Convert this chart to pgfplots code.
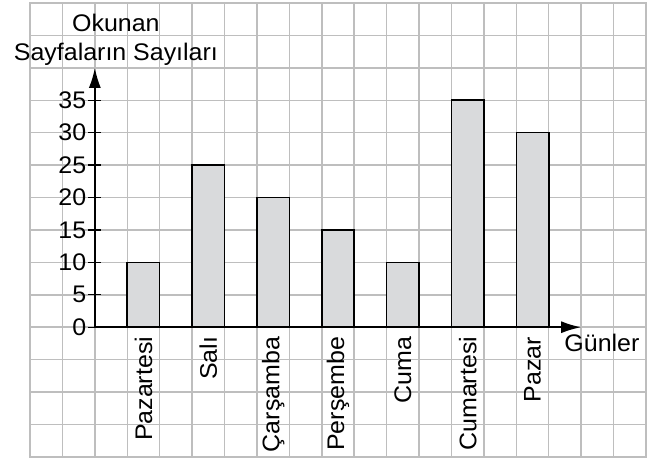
\documentclass[border=0pt]{standalone}
\usepackage{fontspec}
\setmainfont{Liberation Sans}[FakeStretch=1.04]
\usepackage{pgfplots}
\pgfplotsset{compat=1.18}
\usetikzlibrary{arrows.meta}
\definecolor{gridgray}{RGB}{190,190,190}
\definecolor{barfill}{RGB}{217,218,220}
\begin{document}
\begin{tikzpicture}[font=\fontsize{24}{29}\selectfont]
\begin{axis}[
  x=32.42pt, y=6.484pt,
  xmin=-2, xmax=17, ymin=-20, ymax=50,
  axis lines=middle,
  axis line style={draw=none},
  clip=false,
  xtick={1.5,3.5,5.5,7.5,9.5,11.5,13.5},
  xticklabels={Pazartesi,Salı,Çarşamba,Perşembe,Cuma,Cumartesi,Pazar},
  xticklabel style={rotate=90, anchor=east, inner sep=3pt},
  xtick style={draw=none},
  ytick={0,5,...,35},
  ytick style={black, line width=1.3pt},
  yticklabel style={inner sep=2pt},
  major tick length=13pt,
  tick align=center,
  minor xtick={-2,-1,...,17},
  minor ytick={-20,-15,...,50},
  minor tick length=0pt,
  minor tick style={draw=none},
  grid=minor,
  minor grid style={gridgray, line width=1.5pt},
  hide obscured x ticks=false,
  hide obscured y ticks=false,
  /pgf/number format/assume math mode=true,
]
% gridded background, bars on top
\draw[gridgray, line width=1.5pt] (axis cs:-2,-20) rectangle (axis cs:17,50);
\addplot[ybar, bar width=1, fill=barfill, draw=black, line width=1.6pt]
  coordinates {(1.5,10) (3.5,25) (5.5,20) (7.5,15) (9.5,10) (11.5,35) (13.5,30)};
\draw[line width=1.8pt, -{Latex[length=20pt,width=12pt]}] (axis cs:0,0) -- (axis cs:0,40);
\draw[line width=1.8pt, -{Latex[length=20pt,width=12pt]}] (axis cs:0,0) -- (axis cs:15,0);
\node[align=center] at (axis cs:0.65,44.3) {Okunan\\Sayfaların Sayıları};
\node at (axis cs:15.64,-2.4) {Günler};
\coordinate (bl) at (axis cs:-2,-20);
\coordinate (tr) at (axis cs:17,50);
\end{axis}
\pgfresetboundingbox
\path ([shift={(-30pt,-1pt)}]bl) rectangle ([shift={(15pt,3pt)}]tr);
\end{tikzpicture}
\end{document}
